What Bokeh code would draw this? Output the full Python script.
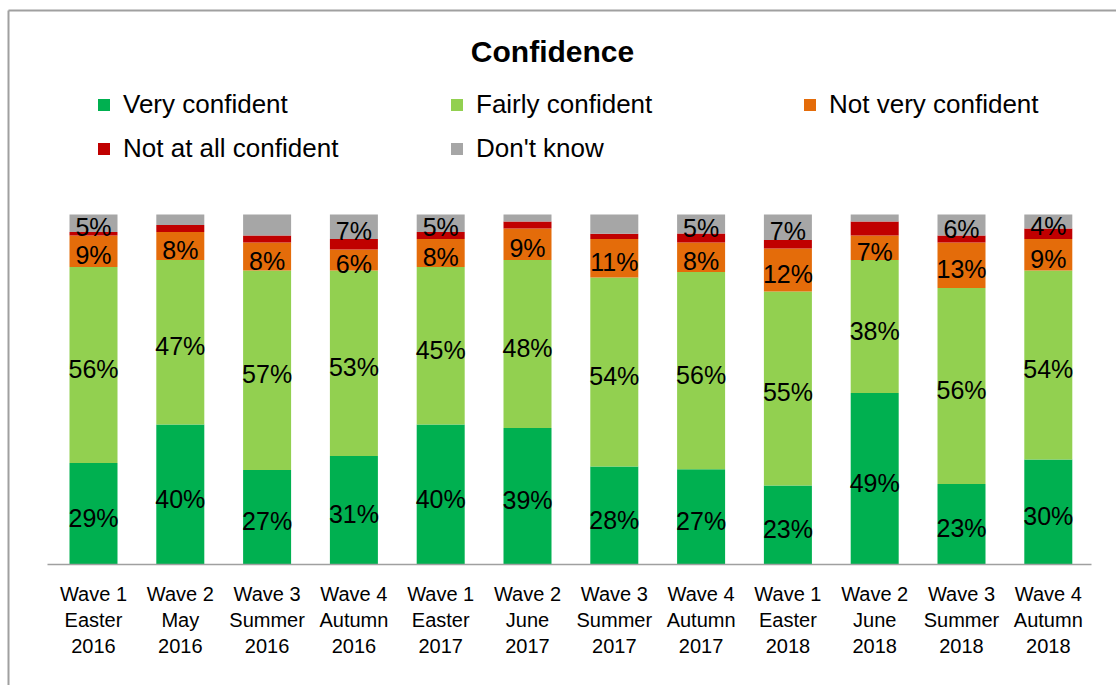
from bokeh.plotting import figure
from bokeh.models import ColumnDataSource, Range1d, Legend, LegendItem, Label
from bokeh.embed import file_html
from bokeh.resources import INLINE
from bokeh.core.properties import value

# ---- data ----
waves = ["Wave 1", "Wave 2", "Wave 3", "Wave 4"] * 3
seasons = ["Easter", "May", "Summer", "Autumn",
           "Easter", "June", "Summer", "Autumn",
           "Easter", "June", "Summer", "Autumn"]
years = ["2016"] * 4 + ["2017"] * 4 + ["2018"] * 4

very_confident = [29, 40, 27, 31, 40, 39, 28, 27.2, 22.6, 49, 23, 30]
fairly_confident = [56, 47, 57, 53, 45, 48, 54, 56.4, 55.4, 38, 56, 54]
not_very_confident = [9, 8, 8, 6, 8, 9, 11, 8.4, 12.3, 7, 13, 9]
not_at_all_confident = [1, 2, 2, 3, 2, 2, 1.5, 2.6, 2.4, 4, 2, 3]
dont_know = [5, 3, 6, 7, 5, 2, 5.5, 5.4, 7.3, 2, 6, 4]
dont_know_labelled = [True, False, False, True, True, False, False, True, True, False, True, True]

series_names = ["Very confident", "Fairly confident", "Not very confident",
                "Not at all confident", "Don't know"]
series_keys = ["vc", "fc", "nvc", "naac", "dk"]
colors = ["#00B050", "#92D050", "#E46C0A", "#C00000", "#A6A6A6"]

# ---- geometry (pixel layout) ----
W, H = 1116, 685
X0, XS = 93.0, 86.8      # centre of first bar, px per category
Y0, YS = 564.0, 3.5      # baseline px, px per percent


def px(pix):
    return (pix - X0) / XS


def py(pix):
    return (Y0 - pix) / YS


FONT = "Liberation Sans"

p = figure(width=W, height=H, output_backend="svg", toolbar_location=None,
           x_axis_location=None, y_axis_location=None,
           x_range=Range1d(px(0), px(W)), y_range=Range1d(py(H), py(0)),
           min_border=0, min_border_left=0, min_border_right=0,
           min_border_top=0, min_border_bottom=0)
p.outline_line_color = None
p.grid.visible = False
p.background_fill_color = "white"
p.border_fill_color = "white"

xs = list(range(len(waves)))
data = dict(x=xs, vc=very_confident, fc=fairly_confident, nvc=not_very_confident,
            naac=not_at_all_confident, dk=dont_know)
src = ColumnDataSource(data)

renderers = p.vbar_stack(series_keys, x="x", width=0.553, color=colors,
                         line_color=None, source=src)

# chart frame (top and left border)
p.segment(x0=[px(8), px(8)], y0=[py(10), py(10)], x1=[px(8), px(W + 5)],
          y1=[py(H + 5), py(10)], line_color="#A0A0A0", line_width=2)
# category axis line
p.segment(x0=[px(47)], y0=[0], x1=[px(1091)], y1=[0], line_color="#A0A0A0", line_width=1.5)

# data labels
lx, ly, lt = [], [], []
cols = [very_confident, fairly_confident, not_very_confident, not_at_all_confident, dont_know]
for i in xs:
    base = 0.0
    for k, col in enumerate(cols):
        v = col[i]
        mid = base + v / 2
        base += v
        show = k in (0, 1, 2) or (k == 4 and dont_know_labelled[i])
        if show:
            lx.append(i)
            ly.append(mid)
            lt.append(f"{round(v)}%")
p.text(x=lx, y=ly, text=lt, text_font=value(FONT), text_font_size=value("25px"),
       text_align="center", text_baseline="middle", text_color="black", y_offset=4)

# category labels
cat_text = [f"{w}\n{s}\n{y}" for w, s, y in zip(waves, seasons, years)]
p.text(x=xs, y=[py(582)] * len(xs), text=cat_text, text_font=value(FONT),
       text_font_size=value("20px"), text_align="center", text_baseline="top",
       text_line_height=1.2, text_color="black")

# title
p.add_layout(Label(x=px(552), y=py(51), text="Confidence", text_align="center",
                   text_baseline="middle", text_font=FONT, text_font_size="30px",
                   text_font_style="bold", text_color="black"))

# legend
items = [LegendItem(label=n, renderers=[r]) for n, r in zip(series_names, renderers)]
legend = Legend(items=items, orientation="horizontal", ncols=3,
                location=(96, 521), glyph_width=15, glyph_height=15,
                label_standoff=12, label_width=313, label_height=26, spacing=13,
                padding=0, margin=0, border_line_color=None,
                background_fill_alpha=0, label_text_font=FONT,
                label_text_font_size="26px", label_text_color="black")
p.add_layout(legend)

open("out.html", "w").write(file_html(p, INLINE))
